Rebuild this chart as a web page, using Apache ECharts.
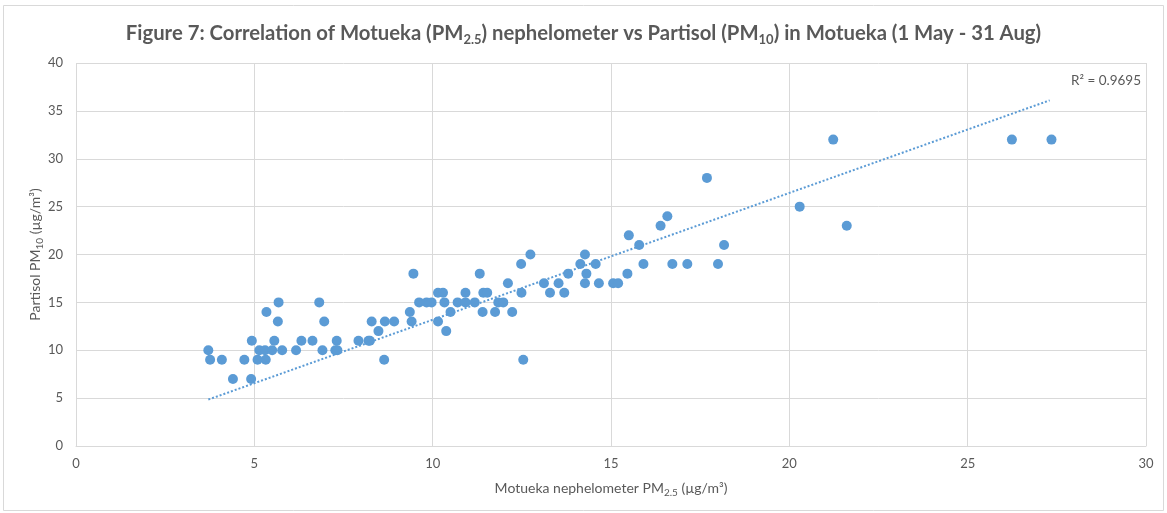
<!DOCTYPE html>
<html><head><meta charset="utf-8">
<script src="https://cdn.jsdelivr.net/npm/echarts@6/dist/echarts.min.js"></script>
<style>html,body{margin:0;padding:0;background:#fff}#c{width:1167px;height:513px}</style>
</head><body><div id="c"></div>
<script>
const nephX = [3.71,3.76,4.09,4.40,4.72,4.91,4.93,5.09,5.14,5.30,5.32,5.34,5.50,5.56,5.66,5.68,5.78,6.17,6.32,6.63,6.82,6.91,6.96,7.31,7.27,7.33,7.92,8.20,8.24,8.29,8.48,8.64,8.66,8.92,9.36,9.41,9.46,9.62,9.83,9.97,10.15,10.15,10.29,10.33,10.38,10.50,10.70,10.92,10.92,11.18,11.32,11.40,11.42,11.53,11.75,11.84,11.98,12.11,12.23,12.48,12.49,12.54,12.74,13.12,13.29,13.53,13.69,13.80,14.14,14.27,14.27,14.31,14.57,14.66,15.06,15.20,15.46,15.50,15.79,15.91,16.39,16.58,16.72,17.14,17.69,18.00,18.17,20.29,21.23,21.61,26.24,27.35];
const partisolY = [10,9,9,7,9,7,11,9,10,10,9,14,10,11,13,15,10,10,11,11,15,10,13,11,10,10,11,11,11,13,12,9,13,13,14,13,18,15,15,15,13,16,16,15,12,14,15,16,15,15,18,14,16,16,14,15,15,17,14,19,16,9,20,17,16,17,16,18,19,20,17,18,19,17,17,17,18,22,21,19,23,24,19,19,28,19,21,25,32,23,32,32];
const trendX = [3.71, 27.3];
const trendY = [4.85, 36.1];
const xTicks = [0,5,10,15,20,25,30];
const yTicks = [0,5,10,15,20,25,30,35,40];
const r2Text = 'R² = 0.9695';

const FONT = 'Lato';
const TXT = '#595959';
const GRID = '#d9d9d9';
const BLUE = '#5b9bd5';

const chart = echarts.init(document.getElementById('c'), null, {renderer:'canvas'});
chart.setOption({
  animation:false,
  backgroundColor:'#fff',
  textStyle:{fontFamily:FONT},
  title:{
    text:'{t|Figure 7: Correlation of Motueka (PM}{s|2.5}{t|) nephelometer vs Partisol (PM}{s|10}{t|) in Motueka (1 May - 31 Aug)}',
    left:'center', top:15,
    textStyle:{rich:{
      t:{fontFamily:FONT,fontSize:20.3,fontWeight:'bold',color:TXT,lineHeight:26},
      s:{fontFamily:FONT,fontSize:13,fontWeight:'bold',color:TXT,lineHeight:14,verticalAlign:'bottom'}
    }}
  },
  grid:{left:76,right:21,top:63,bottom:67,containLabel:false},
  xAxis:{
    type:'value',min:xTicks[0],max:xTicks[xTicks.length-1],interval:5,
    name:'{t|Motueka nephelometer PM}{s|2.5}{t| (µg/m³)}',
    nameLocation:'middle',nameGap:32,nameMoveOverlap:false,
    nameTextStyle:{rich:{
      t:{fontFamily:FONT,fontSize:14,color:TXT,lineHeight:20},
      s:{fontFamily:FONT,fontSize:10,color:TXT,lineHeight:12,verticalAlign:'bottom'}
    }},
    axisLine:{show:true,lineStyle:{color:GRID,width:1}},
    axisTick:{show:false},
    axisLabel:{color:TXT,fontSize:13,fontFamily:FONT,margin:11},
    splitLine:{show:true,lineStyle:{color:GRID,width:1}}
  },
  yAxis:{
    type:'value',min:yTicks[0],max:yTicks[yTicks.length-1],interval:5,
    name:'{t|Partisol PM}{s|10}{t| (µg/m³)}',
    nameLocation:'middle',nameGap:31,nameRotate:90,nameMoveOverlap:false,
    nameTextStyle:{rich:{
      t:{fontFamily:FONT,fontSize:14,color:TXT,lineHeight:20},
      s:{fontFamily:FONT,fontSize:10,color:TXT,lineHeight:12,verticalAlign:'bottom'}
    }},
    axisLine:{show:false},
    axisTick:{show:false},
    axisLabel:{color:TXT,fontSize:13,fontFamily:FONT,margin:13},
    splitLine:{show:true,lineStyle:{color:GRID,width:1}}
  },
  series:[
    {type:'line',data:trendX.map((x,i)=>[x,trendY[i]]),symbol:'none',silent:true,
     lineStyle:{color:BLUE,width:2,type:[2,2]},z:1},
    {type:'scatter',data:nephX.map((x,i)=>[x,partisolY[i]]),symbolSize:10,
     itemStyle:{color:BLUE,opacity:1},z:2}
  ],
  graphic:[
    {type:'rect',shape:{x:3.5,y:5.5,width:1160,height:505},style:{fill:null,stroke:GRID,lineWidth:1},silent:true,z:-1},
    {type:'text',right:26,top:74,style:{text:r2Text,fill:TXT,font:'13.5px '+FONT}}
  ]
});
</script></body></html>
